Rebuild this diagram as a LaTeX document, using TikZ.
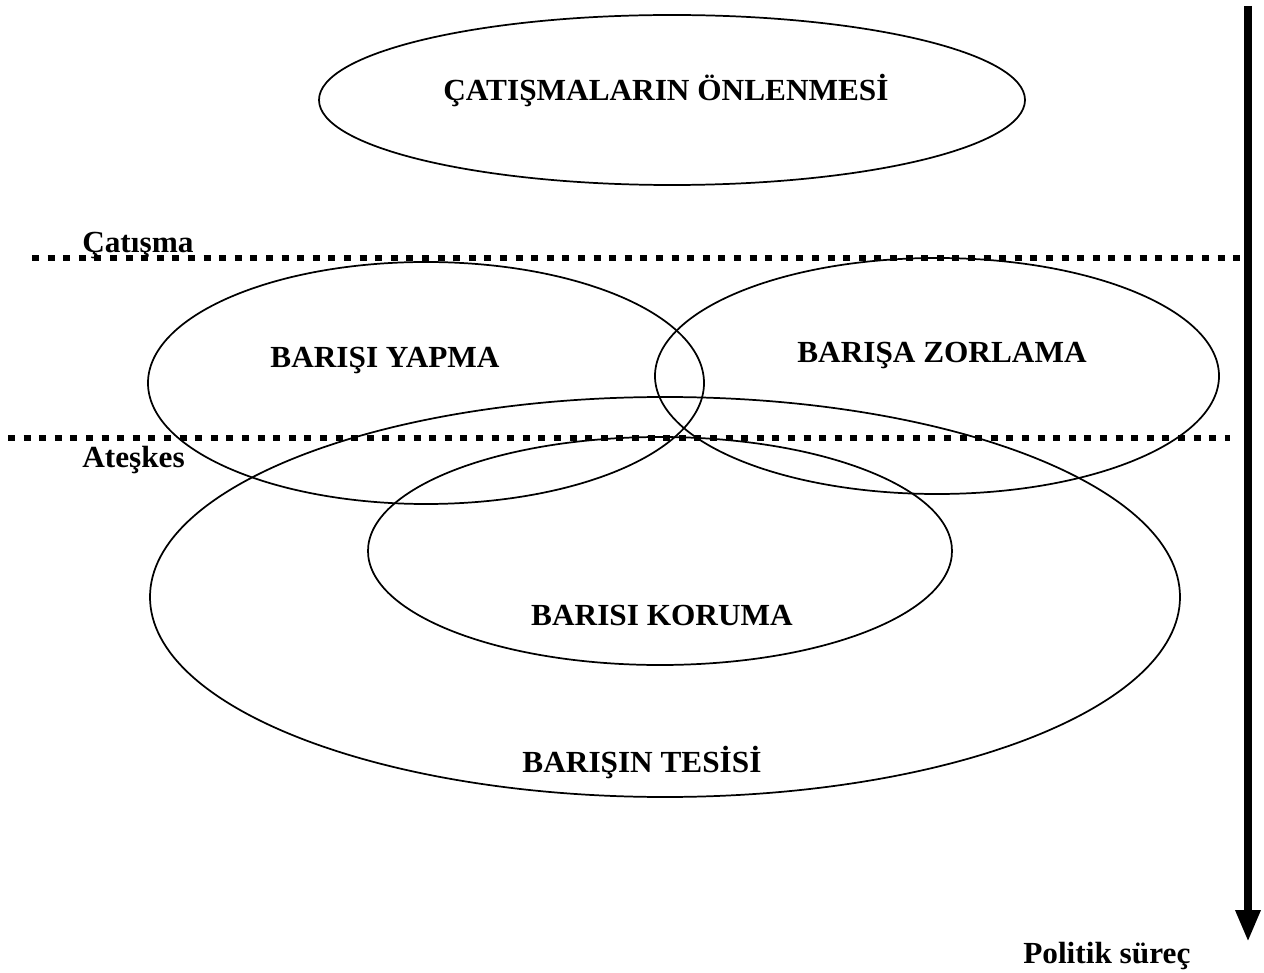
\documentclass[tikz,border=0pt]{standalone}
\usepackage{fontspec}
\setmainfont{Liberation Serif}
\newfontfamily\tnr{Liberation Serif}[FakeStretch=1.02]
\usetikzlibrary{arrows.meta}
\begin{document}
\begin{tikzpicture}[x=0.75pt,y=-0.75pt,
  lbl/.style={anchor=base,inner sep=0pt,font=\tnr\bfseries\fontsize{23}{27}\selectfont},
  oval/.style={draw=black,line width=1.3pt},
  dotline/.style={draw=black,line width=5.2pt,dash pattern=on 5.2pt off 6.5pt},
  flow/.style={draw=black,line width=6pt,-{Triangle[length=24pt,width=17.5pt]}}]
\useasboundingbox (0,0) rectangle (1264,973);
% ellipses
\coordinate (cP) at (672,100);
\coordinate (cY) at (426,383);
\coordinate (cZ) at (937,376);
\coordinate (cT) at (665,597);
\coordinate (cK) at (660,551);
\draw[oval] (cP) ellipse [x radius=353, y radius=85];
\draw[oval] (cY) ellipse [x radius=278, y radius=121];
\draw[oval] (cZ) ellipse [x radius=282, y radius=118];
\draw[oval] (cT) ellipse [x radius=515, y radius=200];
\draw[oval] (cK) ellipse [x radius=292, y radius=114];
% dotted lines
\coordinate (d1a) at (32,258);
\coordinate (d1b) at (1242,258);
\coordinate (d2a) at (8,438);
\coordinate (d2b) at (1230,438);
\draw[dotline] (d1a) -- (d1b);
\draw[dotline] (d2a) -- (d2b);
% arrow
\coordinate (aTop) at (1248,6);
\coordinate (aTip) at (1248,942);
\draw[flow] (aTop) -- (aTip);
% labels
\node[lbl] (tP) at (666,101) {ÇATIŞMALARIN ÖNLENMESİ};
\node[lbl] (tY) at (385,368) {BARIŞI YAPMA};
\node[lbl] (tZ) at (942,363) {BARIŞA ZORLAMA};
\node[lbl] (tK) at (662,625) {BARISI KORUMA};
\node[lbl] (tT) at (642,772) {BARIŞIN TESİSİ};
\node[lbl,anchor=base west] (tC) at (82,253) {Çatışma};
\node[lbl,anchor=base west] (tA) at (82,468) {Ateşkes};
\node[lbl,anchor=base west] (tS) at (1023,963) {Politik süreç};
\end{tikzpicture}
\end{document}
